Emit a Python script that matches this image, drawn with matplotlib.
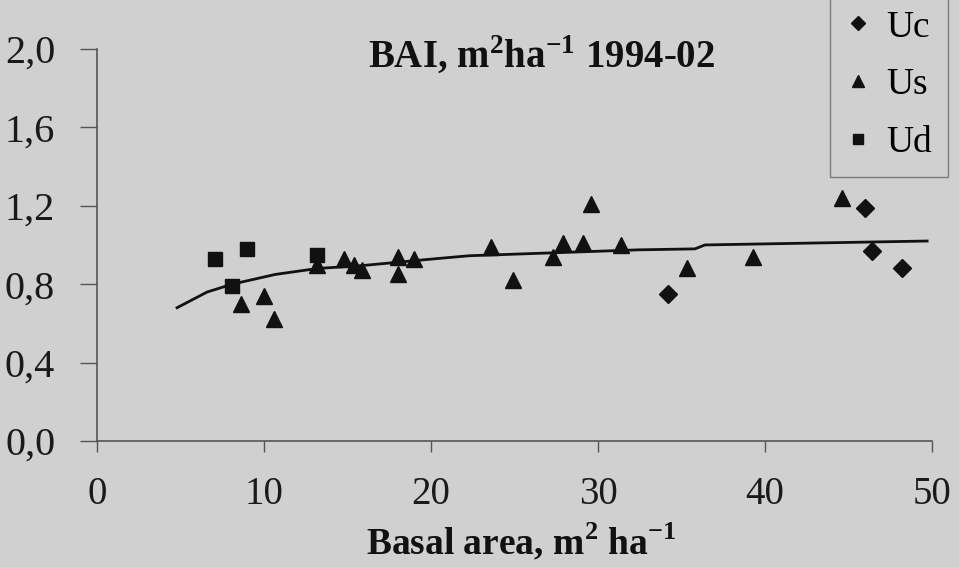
import numpy as np
import matplotlib
matplotlib.use('Agg')
import matplotlib.pyplot as plt

plt.rcParams['font.family'] = ['Liberation Serif', 'DejaVu Serif']
plt.rcParams['mathtext.fontset'] = 'custom'
plt.rcParams['mathtext.rm'] = 'Liberation Serif'
plt.rcParams['mathtext.bf'] = 'Liberation Serif:bold'

# Uc plots (diamonds)
uc_x = [34.2, 46.0, 46.4, 48.2]
uc_y = [0.75, 1.19, 0.97, 0.88]

# Us plots (triangles)
us_x = [8.6, 10.0, 10.6, 13.2, 14.8, 15.4, 15.9, 18.0, 18.0, 19.0,
        23.6, 24.9, 27.3, 27.9, 29.1, 29.6, 31.4, 35.3, 39.3, 44.6]
us_y = [0.70, 0.74, 0.62, 0.90, 0.93, 0.90, 0.87, 0.94, 0.85, 0.93,
        0.99, 0.82, 0.94, 1.01, 1.01, 1.21, 1.00, 0.88, 0.94, 1.24]

# Ud plots (squares)
ud_x = [7.1, 8.1, 9.0, 13.2]
ud_y = [0.93, 0.79, 0.98, 0.95]

# fitted curve
fit_x = [4.8, 6.6, 8.1, 10.7, 13.2, 15.9, 20.3, 22.3, 32.4, 35.8, 36.4, 49.7]
fit_y = [0.68, 0.76, 0.80, 0.85, 0.88, 0.895, 0.93, 0.945, 0.975, 0.98, 1.0, 1.02]

xticks = [0, 10, 20, 30, 40, 50]
yticks = [0.0, 0.4, 0.8, 1.2, 1.6, 2.0]
ylabels = ['0,0', '0,4', '0,8', '1,2', '1,6', '2,0']

bg = '#d0d0d0'
fig = plt.figure(figsize=(9.59, 5.67), dpi=100, facecolor=bg)
ax = fig.add_axes([0.101, 0.222, 0.871, 0.692])
ax.set_facecolor(bg)

ax.plot(fit_x, fit_y, color='#111111', lw=2.0, zorder=2)
ax.plot(uc_x, uc_y, 'D', color='#111111', ms=9, ls='none', label='Uc', zorder=3)
ax.plot(us_x, us_y, '^', color='#111111', ms=12, ls='none', label='Us', zorder=3)
ax.plot(ud_x, ud_y, 's', color='#111111', ms=10, ls='none', label='Ud', zorder=3)

ax.set_xlim(0, 50)
ax.set_ylim(0, 2.0)
ax.set_xticks(xticks)
ax.set_xticklabels([str(t) for t in xticks])
ax.set_yticks(yticks)
ax.set_yticklabels(ylabels)

for s in ['top', 'right']:
    ax.spines[s].set_visible(False)
for s in ['left', 'bottom']:
    ax.spines[s].set_color('#555555')
    ax.spines[s].set_linewidth(1.2)

ax.tick_params(axis='y', direction='out', length=12, width=1, colors='#555555',
               labelcolor='#1a1a1a', labelsize=29, pad=18)
ax.tick_params(axis='x', direction='out', length=8, width=1, colors='#555555',
               labelcolor='#1a1a1a', labelsize=28, pad=17)

fig.text(0.565, 0.902, r'BAI, m$^{\mathbf{2}}$ha$^{\mathbf{-1}}$ 1994-02',
         ha='center', va='center', fontsize=28, fontweight='bold', color='#111111')
fig.text(0.543, 0.045, r'Basal area, m$^{\mathbf{2}}$ ha$^{\mathbf{-1}}$',
         ha='center', va='center', fontsize=27, fontweight='bold', color='#111111')

leg = fig.legend(loc='upper right', bbox_to_anchor=(0.989, 1.012), fontsize=27,
                 frameon=True, fancybox=False, edgecolor='#666666', facecolor=bg,
                 handlelength=0.6, handletextpad=0.45, labelspacing=0.62,
                 borderpad=0.45, borderaxespad=0, markerscale=0.75)
leg.get_frame().set_linewidth(1.0)

fig.savefig('out.png', dpi=100, facecolor=bg)
